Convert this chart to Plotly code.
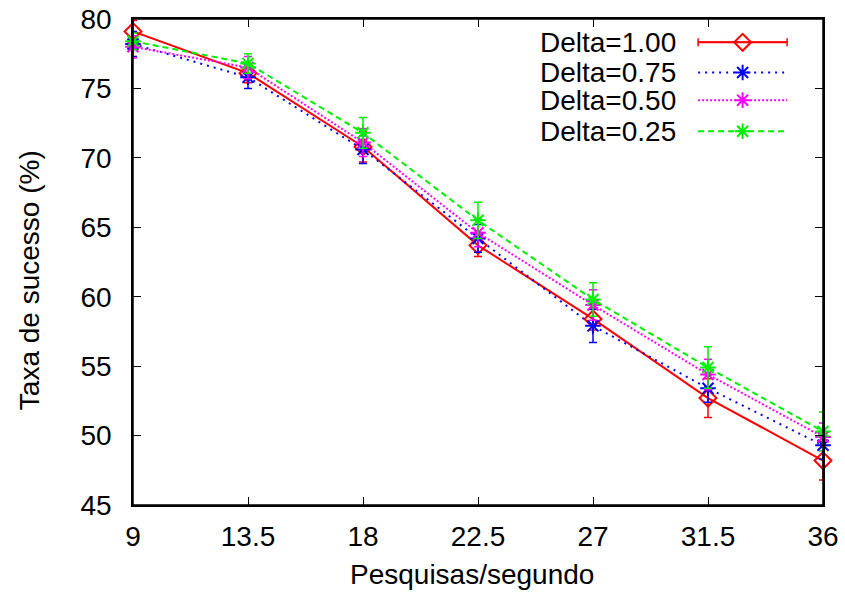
import plotly.graph_objects as go

x_vals = [9, 13.5, 18, 22.5, 27, 31.5, 36]
x_labels = ["9", "13.5", "18", "22.5", "27", "31.5", "36"]
y_ticks = [45, 50, 55, 60, 65, 70, 75, 80]

names = ["Delta=1.00", "Delta=0.75", "Delta=0.50", "Delta=0.25"]
d100 = [79.1, 76.1, 70.8, 63.7, 58.4, 52.7, 48.2]
d075 = [78.2, 75.8, 70.6, 64.2, 57.9, 53.4, 49.3]
d050 = [78.0, 76.5, 71.1, 64.6, 59.4, 54.4, 49.9]
d025 = [78.4, 76.8, 71.8, 65.5, 59.8, 54.9, 50.3]
e100 = [0.8, 0.7, 1.1, 0.8, 0.8, 1.4, 1.4]
e075 = [0.9, 0.8, 1.0, 1.0, 1.2, 1.0, 1.0]
e050 = [0.8, 0.8, 1.0, 1.0, 1.1, 1.1, 1.0]
e025 = [0.6, 0.7, 1.1, 1.3, 1.2, 1.5, 1.4]

series = [d100, d075, d050, d025]
errors = [e100, e075, e050, e025]
colors = ["#ff0000", "#0000ff", "#ff00ff", "#00ee00"]
dashes = ["solid", "2px,5px", "2px,2px", "6px,4px"]
symbols = ["diamond-open", "asterisk-open", "asterisk-open", "asterisk-open"]

FONT = "Liberation Sans, Arial, Helvetica, sans-serif"
FS = 28

fig = go.Figure()
for name, ys, es, c, d, s in zip(names, series, errors, colors, dashes, symbols):
    fig.add_trace(go.Scatter(
        x=x_vals, y=ys, name=name, mode="lines+markers",
        line=dict(color=c, width=2, dash=d),
        marker=dict(symbol=s, size=13, color=c, line=dict(color=c, width=2)),
        error_y=dict(type="data", array=es, visible=True, color=c,
                     thickness=1.5, width=4),
        showlegend=False, cliponaxis=False,
    ))

# gnuplot-style key (text left, sample right) drawn on a hidden overlay axis
key_rows = [0.952, 0.890, 0.833, 0.769]
key_x0, key_x1, key_text_x = 0.819, 0.948, 0.788
for i, (name, c, d, s) in enumerate(zip(names, colors, dashes, symbols)):
    yk = key_rows[i]
    fig.add_trace(go.Scatter(
        x=[key_x0, key_x1], y=[yk, yk], mode="lines",
        line=dict(color=c, width=2, dash=d), xaxis="x2", yaxis="y2",
        showlegend=False, hoverinfo="skip"))
    xm = (key_x0 + key_x1) / 2
    err = dict(type="constant", value=(key_x1 - key_x0) / 2, visible=True,
               color=c, thickness=1.5, width=4) if i == 0 else None
    fig.add_trace(go.Scatter(
        x=[xm], y=[yk], mode="markers",
        marker=dict(symbol=s, size=13, color=c, line=dict(color=c, width=2)),
        error_x=err, xaxis="x2", yaxis="y2",
        showlegend=False, hoverinfo="skip"))
    fig.add_annotation(x=key_text_x, y=yk, xref="paper", yref="paper",
                       text=name, showarrow=False, xanchor="right",
                       yanchor="middle", height=24, borderpad=0,
                       font=dict(size=FS, color="black", family=FONT))

# axis titles as annotations for exact placement
fig.add_annotation(x=0.491, y=-0.144, xref="paper", yref="paper",
                   text="Pesquisas/segundo", showarrow=False,
                   xanchor="center", yanchor="middle",
                   font=dict(size=FS, color="black", family=FONT))
fig.add_annotation(x=-0.149, y=0.463, xref="paper", yref="paper",
                   text="Taxa de sucesso (%)", showarrow=False, textangle=-90,
                   xanchor="center", yanchor="middle",
                   font=dict(size=FS, color="black", family=FONT))

# plot frame
fig.add_shape(type="rect", xref="paper", yref="paper", x0=0, y0=0, x1=1, y1=1,
              line=dict(color="black", width=1.5), layer="above")

axis_common = dict(
    showline=True, linecolor="black", linewidth=1.5, mirror="allticks",
    ticks="inside", ticklen=8, tickwidth=1, tickcolor="black",
    showgrid=False, zeroline=False, ticklabeloverflow="allow",
    automargin=False,
    tickfont=dict(size=FS, color="black", family=FONT),
)

fig.update_layout(
    width=845, height=594,
    margin=dict(l=133, r=22, t=19, b=89),
    paper_bgcolor="white", plot_bgcolor="white",
    font=dict(family=FONT, size=FS, color="black"),
    xaxis=dict(range=[9, 36], tickvals=x_vals, ticktext=x_labels,
               ticklabelstandoff=6, **axis_common),
    yaxis=dict(range=[45, 80], tickvals=y_ticks, ticklabelstandoff=14,
               **axis_common),
    xaxis2=dict(range=[0, 1], overlaying="x", visible=False, fixedrange=True),
    yaxis2=dict(range=[0, 1], overlaying="y", visible=False, fixedrange=True),
    showlegend=False,
)

# remove the browser's default 8px body margin so the figure fills the window
fig.write_html("out.html",
               config={"displayModeBar": False},
               post_script="document.body.style.margin='0';"
                           "document.body.style.overflow='hidden';")
